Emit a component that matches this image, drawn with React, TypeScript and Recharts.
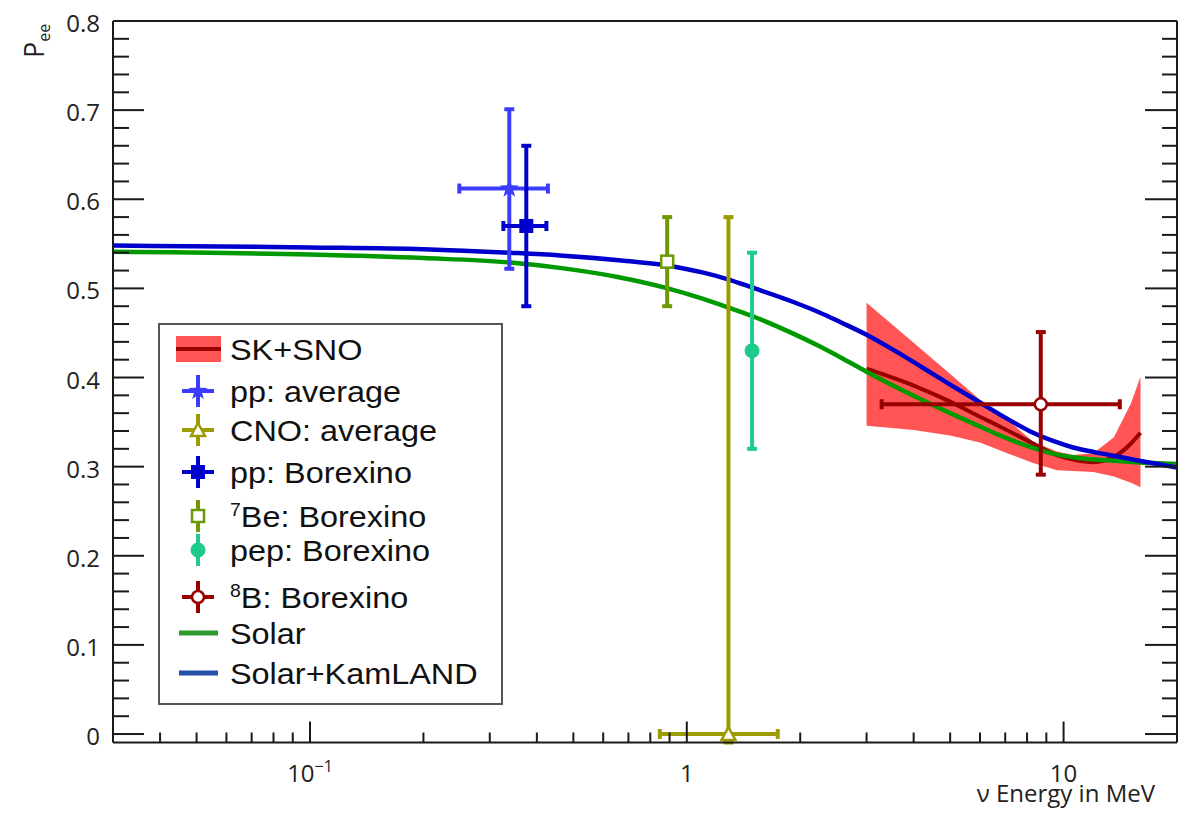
import React from "react";
import { ComposedChart, Line, Area, Scatter, ErrorBar, XAxis, YAxis } from "recharts";

// oscillation fits, Pee vs neutrino energy (MeV)
const curveEnergy = [0.03, 0.1, 0.2, 0.34, 0.46, 0.66, 0.89, 1.1, 1.28, 1.49, 1.91, 2.25, 2.56, 3.0, 3.6, 4.23, 5.0, 6.0, 7.0, 8.3, 9.5, 10.6, 12.0, 13.1, 15.5, 20];
const solarPee = [0.541, 0.538, 0.534, 0.529, 0.523, 0.5125, 0.5, 0.4885, 0.479, 0.469, 0.4495, 0.435, 0.4225, 0.4065, 0.389, 0.3745, 0.36, 0.345, 0.3325, 0.321, 0.314, 0.3105, 0.308, 0.307, 0.305, 0.303];
const kamlandPee = [0.548, 0.546, 0.544, 0.54, 0.537, 0.5315, 0.5255, 0.518, 0.5105, 0.501, 0.485, 0.473, 0.462, 0.448, 0.429, 0.411, 0.392, 0.372, 0.355, 0.338, 0.328, 0.3215, 0.3165, 0.3135, 0.3075, 0.299];

// SK+SNO band
const bandEnergy = [3.0, 4.0, 5.0, 6.0, 7.0, 8.3, 9.6, 10.6, 12.0, 13.6, 15.1, 16.0];
const bandLow = [0.346, 0.341, 0.335, 0.327, 0.316, 0.304, 0.296, 0.295, 0.294, 0.289, 0.282, 0.277];
const bandHigh = [0.484, 0.439, 0.404, 0.375, 0.355, 0.328, 0.317, 0.313, 0.315, 0.333, 0.371, 0.401];
const bandCentral = [0.41, 0.391, 0.373, 0.356, 0.342, 0.326, 0.313, 0.308, 0.305, 0.311, 0.326, 0.338];

// measured points
const pointNames = ["pp: average", "CNO: average", "pp: Borexino", "7Be: Borexino", "pep: Borexino", "8B: Borexino"];
const pointEnergy = [0.338, 1.29, 0.375, 0.887, 1.49, 8.7];
const pointEnergyLow = [0.249, 0.848, 0.326, 0.887, 1.49, 3.29];
const pointEnergyHigh = [0.428, 1.743, 0.424, 0.887, 1.49, 14.1];
const pointPee = [0.612, 0.0, 0.57, 0.53, 0.43, 0.37];
const pointPeeLow = [0.522, -0.0095, 0.48, 0.48, 0.32, 0.291];
const pointPeeHigh = [0.701, 0.58, 0.66, 0.58, 0.54, 0.451];

const xTicks = [0.04, 0.05, 0.06, 0.07, 0.08, 0.09, 0.1, 0.2, 0.3, 0.4, 0.5, 0.6, 0.7, 0.8, 0.9, 1, 2, 3, 4, 5, 6, 7, 8, 9, 10];
const yTicks = [0, 0.02, 0.04, 0.06, 0.08, 0.1, 0.12, 0.14, 0.16, 0.18, 0.2, 0.22, 0.24, 0.26, 0.28, 0.3, 0.32, 0.34, 0.36, 0.38, 0.4, 0.42, 0.44, 0.46, 0.48, 0.5, 0.52, 0.54, 0.56, 0.58, 0.6, 0.62, 0.64, 0.66, 0.68, 0.7, 0.72, 0.74, 0.76, 0.78, 0.8];
const yLabels = ["0", "0.1", "0.2", "0.3", "0.4", "0.5", "0.6", "0.7", "0.8"];

const pointColors = ["#3c3cff", "#9c9c00", "#0000cc", "#6e9a00", "#1ecb8a", "#990000"];
const pointMarkers = ["star", "openTriangle", "square", "openSquare", "circle", "openCircle"];

const AXIS = "#1a1a1a";
const AXIS_FONT = "'Open Sans', sans-serif";
const LEGEND_FONT = "'Liberation Sans', Arial, sans-serif";

const curveRows = curveEnergy.map((e, i) => ({ e, solar: solarPee[i], kamland: kamlandPee[i] }));
const bandRows = bandEnergy.map((e, i) => ({ e, range: [bandLow[i], bandHigh[i]], central: bandCentral[i] }));
const pointRows = pointEnergy.map((e, i) => ({
  e,
  p: pointPee[i],
  ex: [e - pointEnergyLow[i], pointEnergyHigh[i] - e],
  ey: [pointPee[i] - pointPeeLow[i], pointPeeHigh[i] - pointPee[i]],
}));

const isDecade = (v: number) => Math.abs(Math.log10(v) - Math.round(Math.log10(v))) < 1e-6;
const isTenth = (v: number) => Math.abs(v * 10 - Math.round(v * 10)) < 1e-6;

function Marker({ kind, color, cx, cy }: { kind: string; color: string; cx: number; cy: number }) {
  if (kind === "star") {
    const pts: string[] = [];
    for (let k = 0; k < 10; k++) {
      const r = k % 2 === 0 ? 10 : 4;
      const a = -Math.PI / 2 + (k * Math.PI) / 5;
      pts.push(`${cx + r * Math.cos(a)},${cy + r * Math.sin(a)}`);
    }
    return <polygon points={pts.join(" ")} fill={color} />;
  }
  if (kind === "square") return <rect x={cx - 7} y={cy - 7} width={14} height={14} fill={color} />;
  if (kind === "openSquare")
    return <rect x={cx - 6} y={cy - 6} width={12} height={12} fill="#fff" stroke={color} strokeWidth={2.5} />;
  if (kind === "openTriangle")
    return (
      <polygon
        points={`${cx},${cy - 7} ${cx + 7},${cy + 6} ${cx - 7},${cy + 6}`}
        fill="#fff"
        stroke={color}
        strokeWidth={2.5}
      />
    );
  if (kind === "circle") return <circle cx={cx} cy={cy} r={7.5} fill={color} />;
  return <circle cx={cx} cy={cy} r={6} fill="#fff" stroke={color} strokeWidth={2.5} />;
}

const renderBottomTick = (props: any) => {
  const { x, y, payload } = props;
  const v = payload.value;
  const major = isDecade(v);
  return (
    <g>
      <line x1={x} y1={y} x2={x} y2={y - (major ? 21 : 10)} stroke={AXIS} strokeWidth={2} />
      {major && (
        <text x={x} y={y + 39} textAnchor="middle" fontFamily={AXIS_FONT} fontSize={24} fill="#222">
          {v < 0.5 ? (
            <>
              10
              <tspan dy={-10} fontSize={16}>
                −1
              </tspan>
            </>
          ) : (
            String(v)
          )}
        </text>
      )}
    </g>
  );
};

const renderTopTick = (props: any) => {
  const { x, y, payload } = props;
  const major = isDecade(payload.value);
  return <line x1={x} y1={y} x2={x} y2={y + (major ? 22 : 11)} stroke={AXIS} strokeWidth={2} />;
};

const renderLeftTick = (props: any) => {
  const { x, y, payload } = props;
  const v = payload.value;
  const major = isTenth(v);
  return (
    <g>
      <line x1={x} y1={y} x2={x + (major ? 31 : 16)} y2={y} stroke={AXIS} strokeWidth={2} />
      {major && (
        <text x={x - 13} y={y + 11} textAnchor="end" fontFamily={AXIS_FONT} fontSize={24} fill="#222">
          {yLabels[Math.round(v * 10)]}
        </text>
      )}
    </g>
  );
};

const renderRightTick = (props: any) => {
  const { x, y, payload } = props;
  const major = isTenth(payload.value);
  return <line x1={x} y1={y} x2={x - (major ? 32 : 15)} y2={y} stroke={AXIS} strokeWidth={2} />;
};

// legend rows (wrapper coords)
const legendRowY = [341, 383, 422, 464, 508, 542, 589, 625, 665];
const ICON_X = 190;
const TEXT_X = 222;

function Cross({ cy, color, horizontal }: { cy: number; color: string; horizontal: boolean }) {
  return (
    <g stroke={color} strokeWidth={4}>
      <line x1={ICON_X} y1={cy - 16} x2={ICON_X} y2={cy + 16} />
      {horizontal && <line x1={ICON_X - 16} y1={cy} x2={ICON_X + 16} y2={cy} />}
    </g>
  );
}

function Sup({ sup, rest }: { sup: string; rest: string }) {
  return (
    <>
      <tspan fontSize={18} dy={-11}>
        {sup}
      </tspan>
      <tspan fontSize={30} dy={11}>
        {rest}
      </tspan>
    </>
  );
}

function LegendBox() {
  const labels: React.ReactNode[] = [
    "SK+SNO",
    pointNames[0],
    pointNames[1],
    pointNames[2],
    <Sup sup="7" rest="Be: Borexino" />,
    pointNames[4],
    <Sup sup="8" rest="B: Borexino" />,
    "Solar",
    "Solar+KamLAND",
  ];
  return (
    <g>
      <rect x={151} y={316} width={343} height={380} fill="#fff" stroke="#555" strokeWidth={2} />
      {/* SK+SNO */}
      <rect x={168} y={legendRowY[0] - 13} width={45} height={26} fill="#ff5555" />
      <line x1={168} x2={213} y1={legendRowY[0]} y2={legendRowY[0]} stroke="#990000" strokeWidth={4} />
      {/* points */}
      {[0, 1, 2, 3, 4, 5].map((i) => {
        const cy = legendRowY[i + 1];
        const hasX = pointEnergyHigh[i] > pointEnergyLow[i];
        return (
          <g key={i}>
            <Cross cy={cy} color={pointColors[i]} horizontal={hasX} />
            <Marker kind={pointMarkers[i]} color={pointColors[i]} cx={ICON_X} cy={cy} />
          </g>
        );
      })}
      <line x1={171} x2={210} y1={legendRowY[7]} y2={legendRowY[7]} stroke="#2f9a2f" strokeWidth={5} />
      <line x1={171} x2={210} y1={legendRowY[8]} y2={legendRowY[8]} stroke="#2450a8" strokeWidth={5} />
      {labels.map((lab, i) => (
        <text
          key={i}
          transform={`translate(${TEXT_X} ${legendRowY[i] + 11}) scale(1.08 1)`}
          fontFamily={LEGEND_FONT}
          fontSize={30}
          fill="#111"
        >
          {lab}
        </text>
      ))}
    </g>
  );
}

export default function App() {
  return (
    <div style={{ position: "relative", width: 1180, height: 805 }}>
      <ComposedChart width={1180} height={805} margin={{ top: 12, right: 10, bottom: 69.5, left: 104 }}>
        <XAxis
          xAxisId="x"
          dataKey="e"
          type="number"
          scale="log"
          domain={[0.03, 20]}
          allowDataOverflow
          ticks={xTicks}
          interval={0}
          height={1}
          tickSize={0}
          tickMargin={0}
          tickLine={false}
          axisLine={{ stroke: AXIS, strokeWidth: 2 }}
          tick={renderBottomTick}
        />
        <XAxis
          xAxisId="top"
          orientation="top"
          type="number"
          scale="log"
          domain={[0.03, 20]}
          allowDataOverflow
          ticks={xTicks}
          interval={0}
          height={1}
          tickSize={0}
          tickMargin={0}
          tickLine={false}
          axisLine={{ stroke: AXIS, strokeWidth: 2 }}
          tick={renderTopTick}
        />
        <YAxis
          yAxisId="y"
          type="number"
          domain={[-0.0095, 0.8]}
          allowDataOverflow
          ticks={yTicks}
          interval={0}
          width={1}
          tickSize={0}
          tickMargin={0}
          tickLine={false}
          axisLine={{ stroke: AXIS, strokeWidth: 2 }}
          tick={renderLeftTick}
        />
        <YAxis
          yAxisId="right"
          orientation="right"
          type="number"
          domain={[-0.0095, 0.8]}
          allowDataOverflow
          ticks={yTicks}
          interval={0}
          width={1}
          tickSize={0}
          tickMargin={0}
          tickLine={false}
          axisLine={{ stroke: AXIS, strokeWidth: 2 }}
          tick={renderRightTick}
        />

        <Area
          xAxisId="x"
          yAxisId="y"
          data={bandRows}
          dataKey="range"
          type="linear"
          fill="#ff5555"
          fillOpacity={1}
          stroke="none"
          isAnimationActive={false}
        />
        <Line
          xAxisId="x"
          yAxisId="y"
          data={bandRows}
          dataKey="central"
          type="monotone"
          stroke="#990000"
          strokeWidth={4}
          dot={false}
          isAnimationActive={false}
        />
        <Line
          xAxisId="x"
          yAxisId="y"
          data={curveRows}
          dataKey="solar"
          type="monotone"
          stroke="#009900"
          strokeWidth={4.5}
          dot={false}
          isAnimationActive={false}
        />
        <Line
          xAxisId="x"
          yAxisId="y"
          data={curveRows}
          dataKey="kamland"
          type="monotone"
          stroke="#0000cc"
          strokeWidth={4.5}
          dot={false}
          isAnimationActive={false}
        />

        {pointRows.map((row, i) => (
          <Scatter
            key={pointNames[i]}
            xAxisId="x"
            yAxisId="y"
            data={[row]}
            dataKey="p"
            fill={pointColors[i]}
            isAnimationActive={false}
            shape={(p: any) => <Marker kind={pointMarkers[i]} color={pointColors[i]} cx={p.cx} cy={p.cy} />}
          >
            <ErrorBar dataKey="ey" direction="y" width={5} strokeWidth={4} stroke={pointColors[i]} isAnimationActive={false} />
            {pointEnergyHigh[i] > pointEnergyLow[i] && (
              <ErrorBar dataKey="ex" direction="x" width={5} strokeWidth={4} stroke={pointColors[i]} isAnimationActive={false} />
            )}
          </Scatter>
        ))}
      </ComposedChart>

      <svg
        width={1180}
        height={805}
        style={{ position: "absolute", left: 0, top: 0, pointerEvents: "none" }}
      >
        <LegendBox />
        <text x={1147} y={794} textAnchor="end" fontFamily={AXIS_FONT} fontSize={24} fill="#222">
          ν Energy in MeV
        </text>
        <text x={36} y={50} transform="rotate(-90 36 50)" fontFamily={AXIS_FONT} fontSize={27} fill="#222">
          P
          <tspan dy={6} fontSize={16}>
            ee
          </tspan>
        </text>
      </svg>
    </div>
  );
}
